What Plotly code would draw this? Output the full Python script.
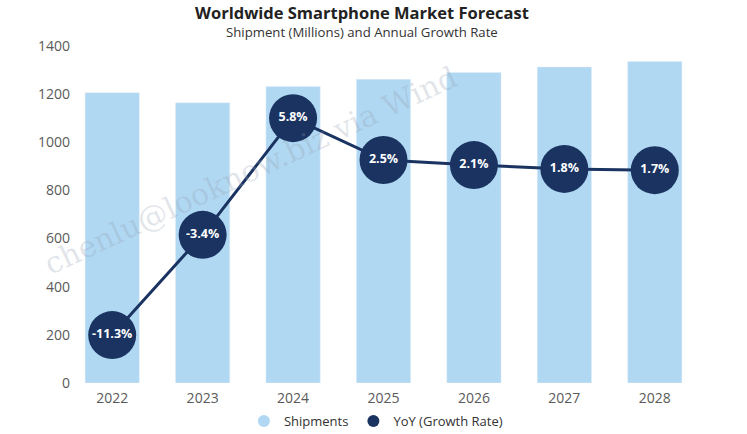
import plotly.graph_objects as go

years = ["2022", "2023", "2024", "2025", "2026", "2027", "2028"]
shipments = [1206, 1164, 1232, 1262, 1290, 1313, 1336]
yoy = [-11.3, -3.4, 5.8, 2.5, 2.1, 1.8, 1.7]
yoy_labels = ["-11.3%", "-3.4%", "5.8%", "2.5%", "2.1%", "1.8%", "1.7%"]
y_ticks = [0, 200, 400, 600, 800, 1000, 1200, 1400]

BAR = "#b0d8f2"
NAVY = "#1a3361"
GRAY = "#5a5a5a"

fig = go.Figure()
fig.add_trace(go.Bar(x=years, y=shipments, marker_color=BAR, width=0.6,
                     showlegend=False, hoverinfo="skip"))
fig.add_trace(go.Scatter(x=years, y=yoy, yaxis="y2", mode="lines+markers+text",
                         line=dict(color=NAVY, width=3),
                         marker=dict(size=48, color=NAVY),
                         text=yoy_labels, textposition="middle center",
                         textfont=dict(color="white", size=12.5, family="Open Sans", weight="bold"),
                         showlegend=False))
# legend entries
fig.add_trace(go.Scatter(x=[None], y=[None], mode="markers", name="Shipments",
                         marker=dict(size=14, color=BAR)))
fig.add_trace(go.Scatter(x=[None], y=[None], mode="markers", name="YoY (Growth Rate)",
                         marker=dict(size=14, color=NAVY)))

fig.add_annotation(text="chenlu@looknow.biz via Wind", xref="paper", yref="paper",
                   x=0.29, y=0.63, xanchor="center", yanchor="middle",
                   showarrow=False, textangle=-25,
                   font=dict(family="DejaVu Serif", size=30, color="rgba(150,160,180,0.28)"))

fig.add_annotation(text="<b>Worldwide Smartphone Market Forecast</b>", xref="paper", yref="paper",
                   x=0.466, y=1.098, xanchor="center", yanchor="middle", showarrow=False,
                   font=dict(size=16.5, color="#222", family="Open Sans"))
fig.add_annotation(text="Shipment (Millions) and Annual Growth Rate", xref="paper", yref="paper",
                   x=0.466, y=1.0415, xanchor="center", yanchor="middle", showarrow=False,
                   font=dict(size=13.2, color="#333", family="Open Sans"))

fig.update_layout(
    width=747, height=434,
    margin=dict(l=67, r=47, t=46, b=51),
    paper_bgcolor="white", plot_bgcolor="white",
    font=dict(family="Open Sans", color=GRAY),
    xaxis=dict(type="category", range=[-0.5, 6.5], showgrid=False, showline=False,
               ticks="", tickfont=dict(size=14, color=GRAY), automargin=False,
               ticklabelstandoff=5),
    yaxis=dict(range=[0, 1400], tickvals=y_ticks, showgrid=False, zeroline=False,
               showline=False, tickfont=dict(size=14, color=GRAY), ticks="",
               automargin=False, ticklabelstandoff=-4),
    yaxis2=dict(range=[-15.08, 11.49], overlaying="y", side="right", visible=False,
                automargin=False),
    legend=dict(orientation="h", x=0.488, xanchor="center", xref="paper",
                y=0.030, yanchor="middle", yref="container",
                font=dict(size=13, color="#333"), itemsizing="constant"),
    bargap=0.4,
)

fig.write_html("out.html", config={"displayModeBar": False},
               post_script="document.body.style.margin='0';")
